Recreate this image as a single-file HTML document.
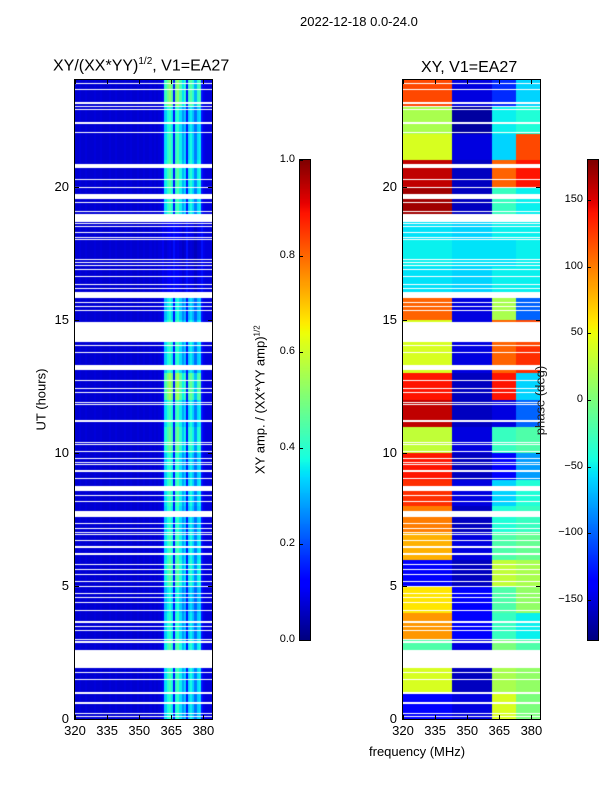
<!DOCTYPE html>
<html><head><meta charset="utf-8">
<style>
body{margin:0;background:#fff;width:600px;height:800px;overflow:hidden;position:relative;font-family:"Liberation Sans","DejaVu Sans",sans-serif;color:#000}
.a{position:absolute;white-space:nowrap}
canvas{position:absolute}
.frame{position:absolute;border:1px solid #000;box-sizing:border-box}
.tl{position:absolute;font-size:13px;text-align:right;width:30px}
.tx{position:absolute;font-size:13px;text-align:center;width:30px}
.cb{position:absolute;font-size:11px;text-align:right;width:40px}
</style></head>
<body>
<div class="a" style="left:300px;top:14px;font-size:13px">2022-12-18 0.0-24.0</div>
<div class="a" style="left:53px;top:56px;font-size:16px">XY/(XX*YY)<sup style="font-size:10px">1/2</sup>, V1=EA27</div>
<div class="a" style="left:421px;top:59px;font-size:16px">XY, V1=EA27</div>

<canvas id="c1" width="137" height="639" style="left:75px;top:80px"></canvas>
<div class="frame" style="left:74px;top:79px;width:139px;height:641px"></div>
<canvas id="c2" width="137" height="639" style="left:403px;top:80px"></canvas>
<div class="frame" style="left:402px;top:79px;width:139px;height:641px"></div>

<canvas id="cb1" width="10" height="480" style="left:300px;top:160px"></canvas>
<div class="frame" style="left:299px;top:159px;width:12px;height:482px"></div>
<canvas id="cb2" width="10" height="480" style="left:588px;top:160px"></canvas>
<div class="frame" style="left:587px;top:159px;width:12px;height:482px"></div>

<div class="a" style="left:6px;top:392px;font-size:13px;transform:rotate(-90deg);width:70px;text-align:center">UT (hours)</div>
<div class="a" style="left:369px;top:744px;font-size:13px">frequency (MHz)</div>
<div class="a" style="left:170px;top:392px;font-size:13px;transform:rotate(-90deg);width:180px;text-align:center">XY amp. / (XX*YY amp)<sup style="font-size:8px">1/2</sup></div>
<div class="a" style="left:500px;top:393px;font-size:13px;transform:rotate(-90deg);width:80px;text-align:center;color:#222">phase (deg)</div>
<div id="ticks"></div>

<script>
// ---- data ----
const freqStart = 320, freqEnd = 384;
const hourStart = 0, hourEnd = 24;
const xTicks = [320,335,350,365,380];
const yTicks = [0,5,10,15,20];
const ampTicks = [0.0,0.2,0.4,0.6,0.8,1.0];
const phaseTicks = [-150,-100,-50,0,50,100,150];
// amplitude per 1-MHz channel (320..383)
const ampProfile = [0.07,0.07,0.08,0.07,0.07,0.08,0.07,0.07,0.07,0.08,0.07,0.07,0.08,0.07,0.07,0.07,0.08,0.07,0.07,0.08,0.07,0.07,0.07,0.08,0.07,0.07,0.08,0.07,0.07,0.08,0.07,0.07,0.08,0.07,0.07,0.08,0.07,0.08,0.07,0.08,0.08,0.1,0.36,0.42,0.46,0.4,0.14,0.42,0.46,0.38,0.3,0.35,0.14,0.36,0.4,0.35,0.26,0.36,0.38,0.14,0.09,0.08,0.08,0.08];
// per-hour gain for the amplitude map
const ampHourGain = [0.9,0.95,1.0,0.9,0.85,1.0,0.95,0.9,0.95,0.9,1.05,0.95,1.2,0.9,0.95,0.85,0.25,0.2,0.25,0.95,1.0,0.95,0.9,1.15];
// phase (deg) per hour for four frequency regions
const regionEdges = [320,343,362,373,384];
const phaseA = [-140,40,-20,90,60,-140,80,100,130,140,30,160,140,40,40,110,-55,-50,-55,170,160,40,20,120];
const phaseB = [-150,-160,-150,-140,-140,-160,-150,-160,-150,-160,-150,-160,-160,-150,-150,-150,-60,-55,-60,-160,-160,-150,-170,-150];
const phaseC = [40,20,0,-30,-20,30,-20,-40,-60,-140,-30,-150,140,110,110,20,-50,-55,-50,-30,110,-60,-50,-120];
const phaseD = [0,10,-20,-50,10,20,-10,-30,-40,-80,-20,-100,-60,130,120,-100,-50,-50,-50,-50,140,120,-40,-60];
// flagged (blank) time ranges in hours
const blankStart = [23.83,23.61,23.1,22.98,22.86,22.35,21.99,20.7,20.23,19.96,19.53,19.36,19.03,18.67,18.58,18.46,18.24,18.08,17.97,17.22,17.11,17.0,16.85,16.58,16.28,16.13,15.82,15.64,15.46,15.34,14.16,13.99,13.73,13.1,12.71,12.41,12.26,11.88,11.78,11.16,10.35,10.27,10.01,9.78,9.63,9.52,9.33,9.26,9.03,8.57,8.36,8.13,7.59,7.34,7.12,6.97,6.89,6.7,6.42,6.16,5.77,5.61,5.39,5.16,4.94,4.71,4.53,4.34,4.07,3.6,3.47,3.29,2.95,2.88,2.84,1.92,1.71,1.48,0.99,0.92,0.56,0.17,0.06];
const blankEnd   = [23.87,23.65,23.18,23.02,22.9,22.43,22.03,20.85,20.27,20.0,19.72,19.4,19.07,18.97,18.62,18.5,18.28,18.12,18.01,17.26,17.15,17.04,16.89,16.62,16.32,16.17,16.04,15.68,15.5,15.38,14.91,14.03,13.77,13.3,12.75,12.45,12.3,11.92,11.82,11.23,10.39,10.31,10.05,9.82,9.67,9.56,9.37,9.3,9.07,8.75,8.4,8.17,7.81,7.38,7.16,7.01,6.93,6.74,6.5,6.24,5.81,5.65,5.43,5.2,4.98,4.75,4.57,4.38,4.11,3.68,3.51,3.33,2.99,2.92,2.88,2.59,1.75,1.52,1.03,0.96,0.64,0.21,0.1];

// ---- axes ----
const W=137,H=639;
const xScale = f => (f-freqStart)/(freqEnd-freqStart)*W;
const yScale = h => H-(h-hourStart)/(hourEnd-hourStart)*H;
function jet(v){v=Math.max(0,Math.min(1,v));
  const interp=(pts)=>{for(let i=1;i<pts.length;i++){if(v<=pts[i][0]){const a=pts[i-1],b=pts[i];return a[1]+(b[1]-a[1])*(v-a[0])/(b[0]-a[0]);}}return pts[pts.length-1][1];};
  const r=interp([[0,0],[0.35,0],[0.66,1],[0.89,1],[1,0.5]]);
  const g=interp([[0,0],[0.125,0],[0.375,1],[0.64,1],[0.91,0],[1,0]]);
  const b=interp([[0,0.5],[0.11,1],[0.34,1],[0.65,0],[1,0]]);
  return `rgb(${Math.round(r*255)},${Math.round(g*255)},${Math.round(b*255)})`;}

function drawMap(id, valueFn){
  const ctx=document.getElementById(id).getContext('2d');
  ctx.fillStyle='#fff';ctx.fillRect(0,0,W,H);
  const step=0.25;
  for(let h=hourStart;h<hourEnd;h+=step){
    for(let c=0;c<ampProfile.length;c++){
      const f=freqStart+c;
      ctx.fillStyle=valueFn(c,f,Math.floor(h));
      const x0=xScale(f),x1=xScale(f+1),y0=yScale(h+step),y1=yScale(h);
      ctx.fillRect(Math.floor(x0),Math.floor(y0),Math.ceil(x1)-Math.floor(x0),Math.ceil(y1)-Math.floor(y0));
    }
  }
  ctx.fillStyle='#fff';
  for(let i=0;i<blankStart.length;i++){
    const y0=yScale(blankEnd[i]),y1=yScale(blankStart[i]);
    ctx.fillRect(0,Math.round(y0),W,Math.max(1,Math.round(y1-y0)));
  }
}
drawMap('c1',(c,f,hr)=>{
  let v=ampProfile[c];
  if(v>0.2) v=v*ampHourGain[hr];
  return jet(v);
});
const phaseSets=[phaseA,phaseB,phaseC,phaseD];
drawMap('c2',(c,f,hr)=>{
  let r=0;while(r<3 && f>=regionEdges[r+1]) r++;
  const p=phaseSets[r][hr];
  return jet((p+180)/360);
});
function drawBar(id){const ctx=document.getElementById(id).getContext('2d');
  for(let i=0;i<480;i++){ctx.fillStyle=jet(1-i/479);ctx.fillRect(0,i,10,1);}}
drawBar('cb1');drawBar('cb2');

// ---- ticks ----
const T=document.getElementById('ticks');
function add(html,name){const d=document.createElement('div');d.innerHTML=html;const e=d.firstChild;
  
  
  T.appendChild(e);return e;}
[75,403].forEach((ox,pi)=>{
  xTicks.forEach(t=>{const x=ox+xScale(t);
    add(`<div class="tx" style="left:${x-15}px;top:723px">${t}</div>`,'x-tick-label');
    add(`<div class="a" style="left:${x}px;top:715px;width:1px;height:4px;background:#000"></div>`,'x-tick-mark');
    add(`<div class="a" style="left:${x}px;top:80px;width:1px;height:4px;background:#000"></div>`,'x-tick-mark');
  });
  yTicks.forEach(t=>{const y=80+yScale(t);
    add(`<div class="tl" style="left:${ox-36}px;top:${y-8}px">${t}</div>`,'y-tick-label');
    add(`<div class="a" style="left:${ox}px;top:${y}px;width:4px;height:1px;background:#000"></div>`,'y-tick-mark');
    add(`<div class="a" style="left:${ox+W-4}px;top:${y}px;width:4px;height:1px;background:#000"></div>`,'y-tick-mark');
  });
});
ampTicks.forEach(t=>{const y=640-t*480;
  add(`<div class="cb" style="left:255px;top:${y-7}px">${t.toFixed(1)}</div>`,'amplitude-colorbar-tick');
  add(`<div class="a" style="left:300px;top:${y}px;width:3px;height:1px;background:#000"></div>`,'amplitude-colorbar-tick-mark');
});
phaseTicks.forEach(t=>{const y=640-(t+180)/360*480;
  add(`<div class="cb" style="left:543px;top:${y-7}px">${t<0?'\u2212'+(-t):t}</div>`,'phase-colorbar-tick');
  add(`<div class="a" style="left:588px;top:${y}px;width:3px;height:1px;background:#000"></div>`,'phase-colorbar-tick-mark');
});
</script>
</body></html>
